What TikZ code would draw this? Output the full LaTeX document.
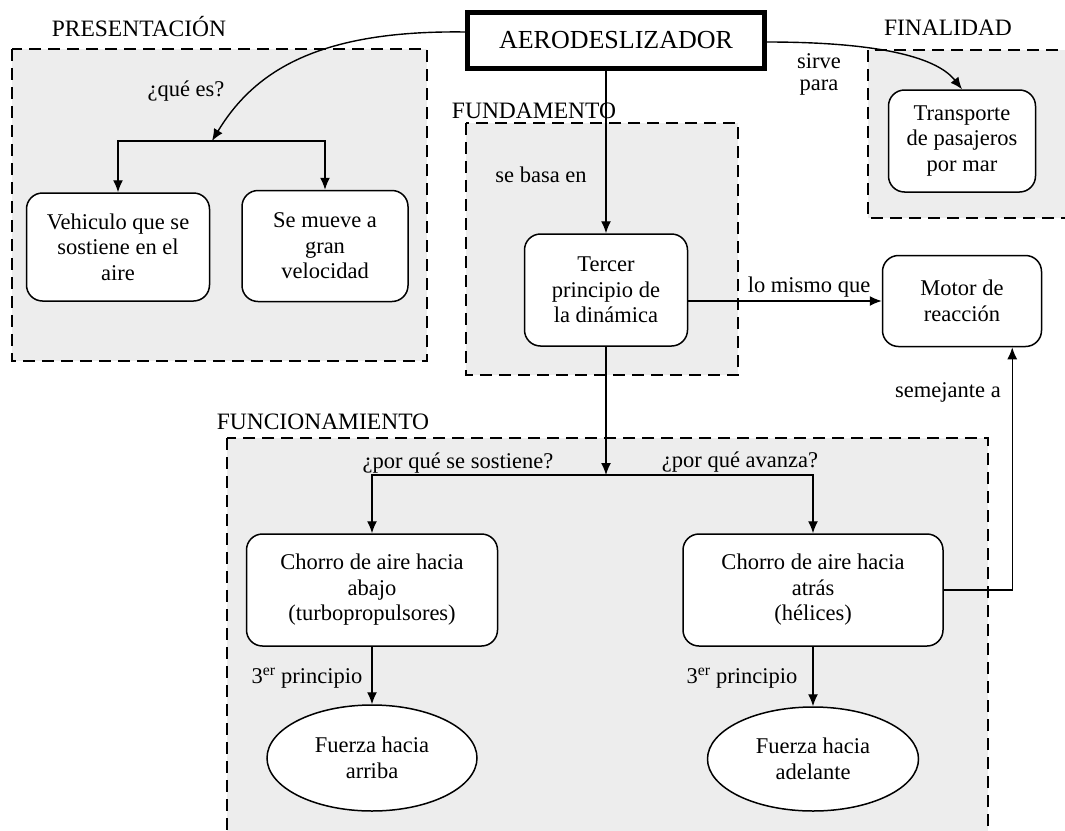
\documentclass[tikz,border=0pt]{standalone}
\usepackage{fontspec}
\setmainfont{Liberation Serif}
\usetikzlibrary{arrows.meta,shapes.geometric}

\begin{document}
\begin{tikzpicture}[x=1pt,y=-1pt,>={Latex[length=12pt,width=10pt]},line width=1.4pt,
  font=\fontsize{22.5}{25.5}\selectfont,
  caja/.style={draw,fill=white,rounded corners=16pt,align=center,line width=1.5pt,inner sep=2pt},
  elipse/.style={draw,fill=white,ellipse,align=center,line width=1.5pt,inner sep=2pt},
  zona/.style={fill=black!7,draw,dash pattern=on 12pt off 7pt,line width=1.5pt},
  rotulo/.style={anchor=base},
  seccion/.style={anchor=base,font=\fontsize{23.5}{26}\selectfont}]
\useasboundingbox (0,0) rectangle (1065,830);
\draw[zona] (12,49) rectangle (427,361);
\draw[zona] (466,123) rectangle (738,375);
\draw[zona] (868,50) rectangle (1080,218);
\draw[zona] (227,438) rectangle (988,850);
\node[seccion] at (139,36) {PRESENTACIÓN};
\node[seccion] at (534,118) {FUNDAMENTO};
\node[seccion] at (948,35) {FINALIDAD};
\node[seccion] at (323,429) {FUNCIONAMIENTO};
\node[draw,fill=white,line width=4.5pt,minimum width=297pt,minimum height=56pt,
  font=\fontsize{26}{30}\selectfont] (aero) at (616,40.5) {AERODESLIZADOR};
\node[caja,minimum width=183pt,minimum height=108pt] (vehiculo) at (118,247) {Vehiculo que se\\sostiene en el\\aire};
\node[caja,minimum width=166pt,minimum height=111pt] (mueve) at (325,246) {Se mueve a\\gran\\velocidad};
\node[caja,minimum width=163pt,minimum height=112pt] (tercer) at (606,290) {Tercer\\principio de\\la dinámica};
\node[caja,minimum width=159pt,minimum height=91pt] (motor) at (962,301) {Motor de\\reacción};
\node[caja,minimum width=147pt,minimum height=102pt] (transporte) at (962,141) {Transporte\\de pasajeros\\por mar};
\node[caja,minimum width=251pt,minimum height=112pt] (chorroA) at (372,590) {Chorro de aire hacia\\abajo\\(turbopropulsores)};
\node[caja,minimum width=260pt,minimum height=112pt] (chorroB) at (813,590) {Chorro de aire hacia\\atrás\\(hélices)};
\node[elipse,minimum width=210pt,minimum height=106pt] (fuerzaA) at (372,758) {Fuerza hacia\\arriba};
\node[elipse,minimum width=211pt,minimum height=104pt] (fuerzaB) at (813,759) {Fuerza hacia\\adelante};
\coordinate (qsplit) at (212,141);
\coordinate (fsplit) at (606,475);
\draw[->] ([yshift=8.5pt]aero.west) .. controls (320,30) and (255,70) .. (qsplit);
\draw[->] (qsplit) -| (vehiculo.north);
\draw[->] (qsplit) -| (mueve.north);
\draw[->] ([yshift=-1.5pt]aero.east) .. controls (870,42) and (935,55) .. (transporte.north);
\draw[->] (aero.south -| tercer.north) -- (tercer.north);
\draw[->] (tercer.east |- motor.west) -- (motor.west);
\draw[->] (tercer.south) -- (fsplit);
\draw[->] (fsplit) -| (chorroA.north);
\draw[->] (fsplit) -| (chorroB.north);
\draw[->] (chorroA.south) -- (fuerzaA.north);
\draw[->] (chorroB.south) -- (fuerzaB.north);
\draw[->] (chorroB.east) -| ([xshift=-30pt]motor.south east);
\node[rotulo] at (186,96) {¿qué es?};
\node[rotulo] at (541,182) {se basa en};
\node[align=center,font=\fontsize{22.5}{22}\selectfont] at (819,74) {sirve\\para};
\node[rotulo] at (809,292) {lo mismo que};
\node[rotulo] at (948,397) {semejante a};
\node[rotulo] at (458,468) {¿por qué se sostiene?};
\node[rotulo] at (740,467) {¿por qué avanza?};
\node[rotulo] at (307,683) {3\textsuperscript{er} principio};
\node[rotulo] at (742,683) {3\textsuperscript{er} principio};
\end{tikzpicture}
\end{document}
